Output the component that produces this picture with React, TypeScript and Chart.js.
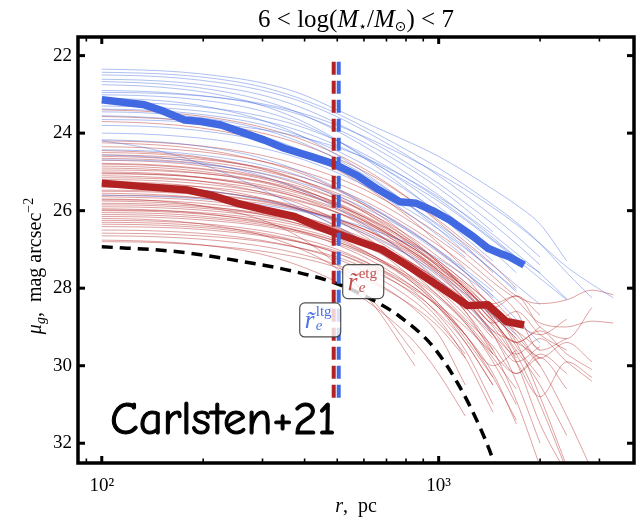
import React, { useEffect, useRef } from "react";
import { Chart, registerables } from "chart.js";

Chart.register(...registerables);

const SERIF = "'Liberation Serif', 'DejaVu Serif', serif";

// Radii (pc) at which the individual thin profiles are sampled
const radiusGrid = [100, 130, 170, 220, 290, 380, 500, 650, 850, 1000, 1200, 1450, 1700, 2000, 2400, 2850, 3300];

// Individual late-type (blue) profiles, mu_g at radiusGrid
const blueProfiles: number[][] = [
  [22.35, 22.37, 22.42, 22.52, 22.68, 22.95, 23.4, 23.85, 24.3, 24.6, 25.0, 25.45, 25.85, 26.35, 27.3],
  [22.43, 22.45, 22.5, 22.6, 22.78, 23.08, 23.5, 24.0, 24.55, 24.9, 25.35, 25.85, 26.3, 26.85, 27.6, 28.25],
  [22.61, 22.63, 22.69, 22.8, 22.99, 23.3, 23.75, 24.28, 24.9, 25.3, 25.8, 26.35, 26.85, 27.4],
  [22.67, 22.7, 22.77, 22.9, 23.12, 23.46, 23.95, 24.52, 25.18, 25.6, 26.12, 26.7, 27.2],
  [22.95, 22.96, 23.0, 23.08, 23.22, 23.45, 23.8, 24.22, 24.72, 25.05, 25.45, 25.92, 26.35, 26.85, 27.45, 27.9, 28.25],
  [23.01, 23.03, 23.09, 23.2, 23.4, 23.72, 24.2, 24.78, 25.45, 25.9, 26.45, 27.05, 27.6],
  [23.2, 23.22, 23.27, 23.37, 23.54, 23.8, 24.2, 24.7, 25.3, 25.7, 26.2, 26.75, 27.2, 27.6],
  [23.3, 23.32, 23.38, 23.48, 23.65, 23.92, 24.32, 24.8, 25.38, 25.76, 26.24, 26.78, 27.25, 27.75, 28.3],
  [23.45, 23.47, 23.54, 23.66, 23.87, 24.2, 24.68, 25.26, 25.95, 26.4, 26.95, 27.55, 28.1],
  [22.75, 22.78, 22.86, 23.0, 23.25, 23.63, 24.18, 24.85, 25.6, 26.1, 26.7, 27.3],
  [23.55, 23.58, 23.66, 23.8, 24.04, 24.4, 24.9, 25.5, 26.2, 26.65, 27.2],
  [24.0, 24.02, 24.08, 24.18, 24.36, 24.63, 25.02, 25.5, 26.08, 26.48, 26.98, 27.55, 28.05],
  [24.17, 24.2, 24.27, 24.4, 24.62, 24.95, 25.42, 25.98, 26.65, 27.08, 27.6, 28.2],
  [24.43, 24.45, 24.51, 24.62, 24.8, 25.08, 25.48, 25.97, 26.58, 27.02, 27.58, 28.2, 28.8, 29.42],
  [24.56, 24.6, 24.68, 24.83, 25.07, 25.43, 25.94, 26.55, 27.28, 27.78, 28.4, 29.15],
  [24.69, 24.7, 24.75, 24.85, 25.01, 25.26, 25.62, 26.07, 26.62, 27.02, 27.52, 28.08],
  [23.1, 23.13, 23.21, 23.37, 23.63, 24.02, 24.57, 25.22, 25.98, 26.48, 27.08],
  [23.65, 23.66, 23.7, 23.77, 23.89, 24.08, 24.37, 24.76, 25.28, 25.65, 26.1, 26.62, 27.1, 27.62, 28.28],
  [24.2, 24.35, 24.6, 24.95, 25.4, 25.9, 26.42, 26.95, 27.55],
  [25.3, 25.33, 25.4, 25.52, 25.7, 25.95, 26.3, 26.72, 27.25, 27.65, 28.15, 28.7, 29.2],
  [25.6, 25.62, 25.66, 25.73, 25.84, 26.0, 26.22, 26.52, 26.92, 27.25, 27.7, 28.25],
  [22.9, 22.92, 22.98, 23.08, 23.25, 23.5, 23.9, 24.4, 25.0, 25.42, 25.95, 26.55],
  [23.38, 23.4, 23.46, 23.57, 23.75, 24.04, 24.46, 24.98, 25.62, 26.05, 26.6],
  [22.5, 22.52, 22.58, 22.69, 22.87, 23.15, 23.58, 24.1, 24.7, 25.1, 25.6, 26.15, 26.65, 27.2],
  [23.8, 23.82, 23.88, 23.99, 24.17, 24.45, 24.85, 25.35, 25.96, 26.36, 26.86, 27.42, 27.92, 28.42],
];

// Individual early-type (red) profiles, mu_g at radiusGrid
const redProfiles: number[][] = [
  [23.4, 23.43, 23.5, 23.62, 23.82, 24.12, 24.55, 25.1, 25.8, 26.3, 26.9, 27.6],
  [23.57, 23.6, 23.66, 23.78, 23.97, 24.25, 24.65, 25.15, 25.8, 26.25, 26.8, 27.4, 28.0],
  [23.7, 23.73, 23.8, 23.93, 24.15, 24.48, 24.95, 25.55, 26.3, 26.85, 27.5],
  [24.2, 24.22, 24.28, 24.38, 24.55, 24.8, 25.15, 25.6, 26.2, 26.6, 27.1, 27.7, 28.2, 28.4, 28.3, 28.05, 28.17],
  [24.35, 24.37, 24.43, 24.53, 24.7, 24.95, 25.3, 25.75, 26.35, 26.75, 27.25, 27.85, 28.3, 28.9, 29.0, 28.85, 28.9],
  [24.56, 24.58, 24.63, 24.72, 24.87, 25.1, 25.45, 25.9, 26.5, 26.9, 27.4, 28.0, 28.6, 29.6, 29.3],
  [24.65, 24.67, 24.73, 24.84, 25.02, 25.3, 25.7, 26.2, 26.85, 27.3, 27.85, 28.5, 29.5, 30.3],
  [24.78, 24.8, 24.86, 24.96, 25.12, 25.36, 25.7, 26.15, 26.75, 27.2, 27.7, 28.4, 28.2, 29.0, 29.3, 28.5],
  [24.9, 24.92, 24.98, 25.08, 25.25, 25.5, 25.85, 26.32, 26.95, 27.4, 28.0, 28.7, 29.4, 30.8, 32.6],
  [25.03, 25.05, 25.1, 25.2, 25.36, 25.6, 25.95, 26.4, 27.0, 27.45, 28.0, 28.8, 29.9, 31.5, 32.8],
  [25.47, 25.48, 25.52, 25.6, 25.73, 25.93, 26.22, 26.62, 27.15, 27.55, 28.05, 28.7, 29.3],
  [25.64, 25.66, 25.7, 25.78, 25.92, 26.13, 26.44, 26.85, 27.4, 27.8, 28.3, 28.95, 29.4, 29.0],
  [25.81, 25.82, 25.86, 25.93, 26.05, 26.25, 26.55, 26.95, 27.5, 27.9, 28.5, 29.3],
  [25.98, 25.99, 26.02, 26.08, 26.2, 26.38, 26.66, 27.05, 27.6, 28.0, 28.55],
  [26.15, 26.16, 26.2, 26.27, 26.38, 26.56, 26.85, 27.25, 27.8, 28.25, 28.9, 29.8, 30.6],
  [26.41, 26.42, 26.45, 26.52, 26.63, 26.8, 27.05, 27.45, 28.0, 28.5, 29.2],
  [26.58, 26.59, 26.62, 26.68, 26.78, 26.95, 27.2, 27.6, 28.15, 28.65, 29.4, 30.5],
  [26.76, 26.78, 26.83, 26.93, 27.1, 27.4, 27.85, 28.5, 29.4, 30.2, 31.3],
  [24.85, 24.87, 24.93, 25.04, 25.22, 25.5, 25.9, 26.45, 27.15, 27.65, 28.3, 29.1, 29.4, 29.8],
  [25.1, 25.12, 25.18, 25.3, 25.5, 25.8, 26.25, 26.85, 27.65, 28.2, 28.9, 29.9, 31.0],
  [25.2, 25.21, 25.26, 25.35, 25.5, 25.72, 26.05, 26.5, 27.1, 27.55, 28.1, 28.9, 28.6, 29.2, 29.6],
  [25.35, 25.37, 25.42, 25.52, 25.68, 25.92, 26.28, 26.75, 27.4, 27.85, 28.5, 29.2, 29.7, 29.3, 29.9, 30.4],
  [25.55, 25.57, 25.62, 25.72, 25.88, 26.12, 26.47, 26.95, 27.6, 28.1, 28.8, 29.5, 30.2, 29.8, 30.6],
  [25.72, 25.73, 25.77, 25.85, 25.98, 26.18, 26.48, 26.9, 27.45, 27.9, 28.6, 29.6, 30.9, 32.6],
  [25.9, 25.91, 25.95, 26.02, 26.14, 26.33, 26.62, 27.02, 27.6, 28.05, 28.7, 29.6],
  [26.05, 26.06, 26.1, 26.18, 26.3, 26.5, 26.8, 27.25, 27.9, 28.45, 29.3, 30.3],
  [26.25, 26.26, 26.3, 26.37, 26.5, 26.7, 27.0, 27.45, 28.1, 28.7, 29.6, 31.0],
  [26.5, 26.51, 26.55, 26.62, 26.75, 26.95, 27.25, 27.7, 28.35, 28.9, 29.7],
  [24.45, 24.48, 24.55, 24.68, 24.88, 25.18, 25.6, 26.15, 26.85, 27.35, 28.0, 28.8, 29.7, 31.0, 32.7],
  [24.7, 24.72, 24.78, 24.9, 25.1, 25.4, 25.85, 26.4, 27.1, 27.6, 28.3, 29.2, 29.9, 29.5],
  [24.95, 24.96, 25.0, 25.08, 25.22, 25.45, 25.8, 26.28, 26.9, 27.35, 27.95, 28.6, 29.1, 29.8, 29.4, 29.9],
  [25.25, 25.27, 25.33, 25.45, 25.65, 25.95, 26.4, 27.0, 27.8, 28.4, 29.2, 30.3, 31.4],
  [25.4, 25.41, 25.45, 25.53, 25.67, 25.88, 26.2, 26.62, 27.2, 27.6, 28.15, 28.85, 29.6, 30.5, 31.8],
  [25.6, 25.61, 25.64, 25.7, 25.8, 25.97, 26.23, 26.6, 27.1, 27.5, 28.0, 28.7, 29.3, 30.0],
  [25.75, 25.77, 25.82, 25.92, 26.08, 26.33, 26.7, 27.2, 27.9, 28.5, 29.4, 30.5],
  [25.85, 25.86, 25.9, 25.97, 26.08, 26.26, 26.52, 26.88, 27.4, 27.8, 28.4, 29.1, 29.9, 30.8, 29.9, 30.3],
  [26.1, 26.11, 26.15, 26.22, 26.34, 26.52, 26.8, 27.2, 27.75, 28.2, 28.85, 29.7],
  [26.3, 26.31, 26.35, 26.43, 26.56, 26.78, 27.1, 27.55, 28.2, 28.8, 29.8, 31.2],
  [26.65, 26.66, 26.7, 26.77, 26.9, 27.1, 27.4, 27.85, 28.55, 29.2, 30.5],
  [24.6, 24.62, 24.68, 24.78, 24.95, 25.2, 25.55, 26.0, 26.6, 27.05, 27.6, 28.3, 28.9, 29.2, 28.8],
  [25.0, 25.02, 25.08, 25.2, 25.38, 25.65, 26.05, 26.58, 27.3, 27.85, 28.6, 29.7],
  [25.15, 25.16, 25.2, 25.28, 25.42, 25.65, 25.98, 26.42, 27.0, 27.45, 28.0, 28.75, 29.1, 29.6],
  [24.25, 24.28, 24.35, 24.48, 24.7, 25.0, 25.45, 26.05, 26.8, 27.35, 28.05, 28.9],
  [25.5, 25.51, 25.55, 25.62, 25.75, 25.95, 26.25, 26.68, 27.25, 27.7, 28.3, 29.2, 30.4, 32.0],
  [26.0, 26.01, 26.05, 26.12, 26.25, 26.45, 26.75, 27.2, 27.85, 28.4, 29.2, 30.0, 29.6],
  [25.7, 25.72, 25.8, 25.95, 26.2, 26.65, 27.4, 28.5, 30.0],
  [26.2, 26.22, 26.28, 26.4, 26.6, 26.95, 27.5, 28.4, 29.7],
  [24.8, 24.82, 24.88, 24.98, 25.15, 25.42, 25.82, 26.35, 27.05, 27.55, 28.2, 29.0, 29.8],
  [25.3, 25.31, 25.35, 25.42, 25.55, 25.75, 26.05, 26.45, 27.0, 27.4, 27.9, 28.5, 28.2, 28.7],
  [25.95, 25.97, 26.02, 26.12, 26.28, 26.52, 26.88, 27.35, 28.0, 28.5, 29.2, 30.2, 31.5],
  [26.35, 26.36, 26.4, 26.47, 26.6, 26.8, 27.1, 27.5, 28.05, 28.45, 29.0, 29.7, 30.2, 29.7, 30.2],
  [26.8, 26.81, 26.85, 26.92, 27.03, 27.2, 27.47, 27.9, 28.5, 29.0, 29.8],
  [24.5, 24.52, 24.58, 24.7, 24.9, 25.2, 25.65, 26.22, 26.95, 27.45, 28.1, 28.85, 29.4, 29.1, 29.7, 30.1],
  [25.05, 25.06, 25.1, 25.18, 25.32, 25.54, 25.87, 26.3, 26.88, 27.3, 27.85, 28.5, 29.2, 30.0, 31.3, 32.7],
];

// Median profiles
const blueMedianR = [100, 134, 153, 176, 197, 226, 265, 304, 348, 417, 491, 575, 660, 766, 859, 960, 1078, 1267, 1400, 1517, 1619, 1793];
const blueMedianMu = [23.14, 23.27, 23.44, 23.66, 23.7, 23.79, 24.0, 24.18, 24.39, 24.6, 24.8, 25.1, 25.45, 25.77, 25.81, 26.0, 26.24, 26.67, 26.97, 27.1, 27.19, 27.4];
const redMedianR = [100, 134, 180, 211, 253, 304, 373, 438, 513, 545, 682, 820, 1006, 1220, 1400, 1589, 1793];
const redMedianMu = [25.29, 25.38, 25.47, 25.6, 25.81, 25.98, 26.15, 26.41, 26.63, 26.71, 27.01, 27.45, 27.96, 28.45, 28.43, 28.86, 28.95];

// Black dashed reference profile
const modelR = [100, 168, 265, 373, 486, 610, 766, 963, 1154, 1323, 1450, 1520];
const modelMu = [26.93, 27.06, 27.32, 27.57, 27.85, 28.22, 28.73, 29.51, 30.54, 31.57, 32.43, 33.0];

// Median effective radii (pc) and vertical extent of their markers
const reEtg = 488;
const reLtg = 505;
const reLineMu = [22.16, 30.97];
const etgBoxMu = 27.83;
const ltgBoxMu = 28.82;

// Axes
const xRange = [85, 3800];
const yRange = [21.52, 32.51];
const yTickValues = [22, 24, 26, 28, 30, 32];
const xMajorTicks = [100, 1000];
const xMajorLabels = ["10²", "10³"];
const xMinorTicks = [90, 200, 300, 400, 500, 600, 700, 800, 900, 2000, 3000];

type Seg = { t: string; size: number; italic?: boolean; dy?: number; family?: string };

function fontOf(s: Seg) {
  return `${s.italic ? "italic " : ""}${s.size}px ${s.family || SERIF}`;
}

function drawRich(ctx: CanvasRenderingContext2D, segs: Seg[], x: number, y: number, align: "left" | "center", color: string) {
  let total = 0;
  const widths = segs.map((s) => {
    ctx.font = fontOf(s);
    const w = ctx.measureText(s.t).width;
    total += w;
    return w;
  });
  let cx = align === "center" ? x - total / 2 : x;
  ctx.textAlign = "left";
  ctx.textBaseline = "alphabetic";
  ctx.fillStyle = color;
  segs.forEach((s, i) => {
    ctx.font = fontOf(s);
    ctx.fillText(s.t, cx, y + (s.dy || 0));
    cx += widths[i];
  });
}

function drawLabelBox(ctx: CanvasRenderingContext2D, anchorX: number, centerY: number, sup: string, color: string, side: "left" | "right") {
  const w = 41;
  const h = 34;
  const left = side === "left" ? anchorX : anchorX - w;
  const top = centerY - h / 2;
  ctx.beginPath();
  ctx.roundRect(left, top, w, h, 5);
  ctx.fillStyle = "rgba(255,255,255,0.8)";
  ctx.fill();
  ctx.strokeStyle = "rgba(50,50,50,0.85)";
  ctx.lineWidth = 1.2;
  ctx.stroke();
  ctx.fillStyle = color;
  ctx.textAlign = "left";
  ctx.textBaseline = "alphabetic";
  ctx.font = `italic 25px ${SERIF}`;
  ctx.fillText("r\u0303", left + 5, top + 25);
  ctx.font = `15px ${SERIF}`;
  ctx.fillText(sup, left + 16, top + 13);
  ctx.font = `italic 15px ${SERIF}`;
  ctx.fillText("e", left + 16, top + 27);
}

const decorPlugin = {
  id: "decor",
  afterDatasetsDraw(chart: any) {
    const { ctx, chartArea: a, scales } = chart;
    const xs = scales.x;
    const ys = scales.y;
    ctx.save();
    drawLabelBox(ctx, xs.getPixelForValue(reEtg) + 9, ys.getPixelForValue(etgBoxMu), "etg", "rgba(178,34,34,0.8)", "left");
    drawLabelBox(ctx, xs.getPixelForValue(reLtg) + 2, ys.getPixelForValue(ltgBoxMu), "ltg", "rgba(65,105,225,0.95)", "right");

    // Carlsten+21 tag
    const tagFamily = "'Comic Sans MS', 'Comic Neue', 'Noto Sans', sans-serif";
    ctx.font = `38px ${tagFamily}`;
    const mw = ctx.measureText("Carlsten+21").width;
    const size = (38 * 226) / mw;
    ctx.font = `${size}px ${tagFamily}`;
    ctx.fillStyle = "#000";
    ctx.strokeStyle = "#000";
    ctx.lineWidth = 1.1;
    ctx.lineJoin = "round";
    ctx.textAlign = "left";
    ctx.textBaseline = "alphabetic";
    ctx.fillText("Carlsten+21", 110, 434);
    ctx.strokeText("Carlsten+21", 110, 434);

    // frame
    ctx.strokeStyle = "#000";
    ctx.lineWidth = 3.5;
    ctx.lineJoin = "miter";
    ctx.strokeRect(a.left, a.top, a.right - a.left, a.bottom - a.top);

    const tick = (x1: number, y1: number, x2: number, y2: number, w: number) => {
      ctx.lineWidth = w;
      ctx.beginPath();
      ctx.moveTo(x1, y1);
      ctx.lineTo(x2, y2);
      ctx.stroke();
    };
    xMajorTicks.forEach((v) => {
      const px = xs.getPixelForValue(v);
      tick(px, a.bottom, px, a.bottom - 7, 3);
      tick(px, a.top, px, a.top + 7, 3);
    });
    xMinorTicks.forEach((v) => {
      const px = xs.getPixelForValue(v);
      tick(px, a.bottom, px, a.bottom - 4.5, 1.6);
      tick(px, a.top, px, a.top + 4.5, 1.6);
    });
    yTickValues.forEach((v) => {
      const py = ys.getPixelForValue(v);
      tick(a.left, py, a.left + 7, py, 3);
      tick(a.right, py, a.right - 7, py, 3);
    });
    ctx.restore();
  },
  afterDraw(chart: any) {
    const { ctx, chartArea: a } = chart;
    ctx.save();
    const cx = (a.left + a.right) / 2;
    drawRich(
      ctx,
      [
        { t: "6 < log(", size: 25 },
        { t: "M", size: 25, italic: true },
        { t: "⋆", size: 14, dy: 4, family: "'DejaVu Sans', sans-serif" },
        { t: "/", size: 25 },
        { t: "M", size: 25, italic: true },
        { t: "⊙", size: 14, dy: 4, family: "'DejaVu Sans', sans-serif" },
        { t: ") < 7", size: 25 },
      ],
      cx,
      27,
      "center",
      "#000"
    );
    drawRich(
      ctx,
      [
        { t: "r", size: 20, italic: true },
        { t: ",  pc", size: 20 },
      ],
      cx,
      512,
      "center",
      "#000"
    );
    ctx.translate(41, (a.top + a.bottom) / 2 + 16);
    ctx.rotate(-Math.PI / 2);
    drawRich(
      ctx,
      [
        { t: "μ", size: 20, italic: true },
        { t: "g", size: 14, italic: true, dy: 4 },
        { t: ",  mag arcsec", size: 20 },
        { t: "−2", size: 14, dy: -8 },
      ],
      0,
      0,
      "center",
      "#000"
    );
    ctx.restore();
  },
};

function profileDataset(p: number[], color: string) {
  return {
    data: p.map((mu, i) => ({ x: radiusGrid[i], y: mu })),
    borderColor: color,
    borderWidth: 1,
    pointRadius: 0,
    cubicInterpolationMode: "monotone",
    fill: false,
    order: 10,
  };
}

function pairDataset(rs: number[], mus: number[], extra: any) {
  return {
    data: rs.map((r, i) => ({ x: r, y: mus[i] })),
    pointRadius: 0,
    fill: false,
    ...extra,
  };
}

export default function App() {
  const canvasRef = useRef<HTMLCanvasElement | null>(null);

  useEffect(() => {
    if (!canvasRef.current) return;
    const datasets: any[] = [
      ...blueProfiles.map((p) => profileDataset(p, "rgba(65,105,225,0.42)")),
      ...redProfiles.map((p) => profileDataset(p, "rgba(178,34,34,0.42)")),
      pairDataset(modelR, modelMu, {
        borderColor: "#000",
        borderWidth: 3.5,
        borderDash: [11, 7],
        cubicInterpolationMode: "monotone",
        order: 4,
      }),
      pairDataset(redMedianR, redMedianMu, {
        borderColor: "#b22222",
        borderWidth: 7.5,
        tension: 0,
        borderJoinStyle: "round",
        order: 3,
      }),
      pairDataset(blueMedianR, blueMedianMu, {
        borderColor: "#4169e1",
        borderWidth: 7.5,
        tension: 0,
        borderJoinStyle: "round",
        order: 2,
      }),
      pairDataset([reLtg, reLtg], reLineMu, {
        borderColor: "#4169e1",
        borderWidth: 4,
        borderDash: [13, 6],
        order: 1,
      }),
      pairDataset([reEtg, reEtg], reLineMu, {
        borderColor: "#b22222",
        borderWidth: 4,
        borderDash: [13, 6],
        order: 0,
      }),
    ];

    const chart = new Chart(canvasRef.current, {
      type: "line",
      data: { datasets },
      options: {
        animation: false,
        responsive: true,
        maintainAspectRatio: false,
        layout: { padding: { top: 37, right: 9, left: 0, bottom: 0 } },
        plugins: {
          legend: { display: false },
          tooltip: { enabled: false },
          title: { display: false },
        },
        scales: {
          x: {
            type: "logarithmic",
            min: xRange[0],
            max: xRange[1],
            grid: { display: false, drawTicks: false },
            border: { display: false },
            ticks: {
              color: "#000",
              font: { family: SERIF, size: 19 },
              padding: 12,
              maxRotation: 0,
              autoSkip: false,
              callback: (v: any) => {
                const i = xMajorTicks.indexOf(Number(v));
                return i >= 0 ? xMajorLabels[i] : "";
              },
            },
            afterBuildTicks: (s: any) => {
              s.ticks = xMajorTicks.map((v) => ({ value: v }));
            },
            afterFit: (s: any) => {
              s.height = 56;
            },
          },
          y: {
            type: "linear",
            reverse: true,
            min: yRange[0],
            max: yRange[1],
            grid: { display: false, drawTicks: false },
            border: { display: false },
            ticks: {
              color: "#000",
              font: { family: SERIF, size: 19 },
              padding: 6,
            },
            afterBuildTicks: (s: any) => {
              s.ticks = yTickValues.map((v) => ({ value: v }));
            },
            afterFit: (s: any) => {
              s.width = 78;
            },
          },
        },
      } as any,
      plugins: [decorPlugin],
    });
    return () => chart.destroy();
  }, []);

  return (
    <div style={{ position: "fixed", left: 0, top: 0, width: 643, height: 519, background: "#fff" }}>
      <canvas ref={canvasRef} />
    </div>
  );
}
